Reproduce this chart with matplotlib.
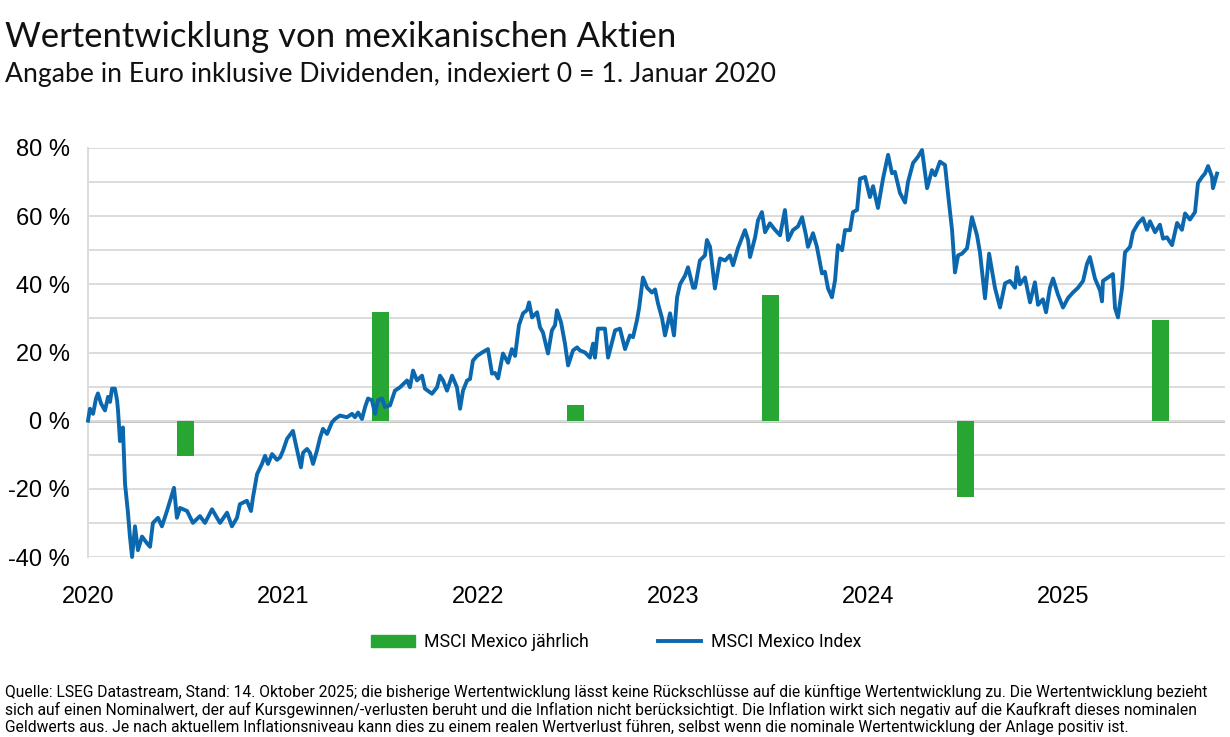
import matplotlib
matplotlib.use('Agg')
import matplotlib.pyplot as plt
from matplotlib.patches import Patch
from matplotlib.lines import Line2D

# years since 1 Jan 2020 / performance in %
index_t = [0.000, 0.010, 0.026, 0.041, 0.051, 0.067, 0.087, 0.103, 0.113, 0.123,
           0.138, 0.149, 0.154, 0.164, 0.179, 0.190, 0.205, 0.215, 0.226, 0.241,
           0.256, 0.277, 0.303, 0.318, 0.333, 0.359, 0.379, 0.405, 0.421, 0.441,
           0.456, 0.472, 0.508, 0.538, 0.574, 0.600, 0.636, 0.677, 0.713, 0.738,
           0.764, 0.779, 0.815, 0.836, 0.846, 0.867, 0.892, 0.908, 0.923, 0.944,
           0.969, 0.985, 1.000, 1.021, 1.051, 1.062, 1.077, 1.092, 1.103, 1.123,
           1.138, 1.154, 1.174, 1.190, 1.205, 1.226, 1.251, 1.267, 1.292, 1.328,
           1.354, 1.369, 1.385, 1.405, 1.421, 1.436, 1.456, 1.472, 1.487, 1.508,
           1.523, 1.549, 1.574, 1.600, 1.636, 1.651, 1.667, 1.687, 1.713, 1.728,
           1.764, 1.790, 1.805, 1.821, 1.841, 1.867, 1.892, 1.908, 1.923, 1.944,
           1.959, 1.974, 1.995, 2.021, 2.051, 2.072, 2.087, 2.103, 2.128, 2.154,
           2.174, 2.190, 2.210, 2.231, 2.251, 2.262, 2.277, 2.303, 2.318, 2.333,
           2.359, 2.379, 2.395, 2.405, 2.426, 2.446, 2.462, 2.487, 2.508, 2.523,
           2.549, 2.574, 2.590, 2.600, 2.615, 2.651, 2.667, 2.687, 2.703, 2.728,
           2.754, 2.779, 2.795, 2.815, 2.826, 2.846, 2.867, 2.892, 2.908, 2.923,
           2.944, 2.959, 2.985, 3.005, 3.021, 3.036, 3.062, 3.077, 3.103, 3.113,
           3.138, 3.164, 3.174, 3.190, 3.215, 3.241, 3.267, 3.292, 3.308, 3.333,
           3.369, 3.385, 3.395, 3.421, 3.436, 3.456, 3.472, 3.497, 3.523, 3.549,
           3.574, 3.590, 3.615, 3.641, 3.662, 3.682, 3.692, 3.718, 3.738, 3.764,
           3.779, 3.795, 3.815, 3.831, 3.846, 3.867, 3.882, 3.908, 3.923, 3.944,
           3.959, 3.985, 4.010, 4.026, 4.051, 4.077, 4.103, 4.123, 4.138, 4.164,
           4.190, 4.205, 4.231, 4.256, 4.277, 4.303, 4.328, 4.344, 4.369, 4.395,
           4.410, 4.431, 4.446, 4.462, 4.482, 4.508, 4.533, 4.559, 4.574, 4.600,
           4.621, 4.651, 4.677, 4.703, 4.728, 4.754, 4.764, 4.779, 4.805, 4.831,
           4.856, 4.872, 4.897, 4.913, 4.933, 4.949, 4.974, 5.000, 5.026, 5.051,
           5.077, 5.103, 5.123, 5.138, 5.164, 5.190, 5.200, 5.205, 5.231, 5.256,
           5.267, 5.282, 5.303, 5.318, 5.344, 5.359, 5.385, 5.410, 5.431, 5.446,
           5.472, 5.497, 5.513, 5.533, 5.559, 5.585, 5.610, 5.626, 5.651, 5.677,
           5.692, 5.713, 5.728, 5.744, 5.764, 5.769, 5.790]
index_val = [0, 3.5, 2, 6.5, 8, 5, 3, 7, 5.5, 9.4,
             9.4, 6, 3, -6, -2, -18.6, -27, -34, -40, -31,
             -38, -34, -36, -37, -30, -28.5, -31, -26.5, -23.5, -19.7,
             -28.5, -25.6, -26.5, -30, -28, -30, -26, -30, -27, -31,
             -28.5, -24.5, -23.5, -26.5, -22.5, -15.7, -12.7, -10.3, -12.7, -9.8,
             -11.5, -10.8, -8.8, -5.3, -3, -6, -9.8, -13.7, -9.4, -8.3,
             -9.4, -12.7, -8.8, -5, -2.4, -3.9, -0.5, 0.5, 1.5, 1,
             2, 1, 2.4, 0.5, 4, 6.5, 6, 2, 6, 6.5,
             4, 4.5, 8.8, 9.8, 11.8, 9.8, 14.7, 11.8, 13.2, 9.4,
             7.9, 9.8, 13.2, 11.8, 8.8, 13.2, 9.8, 3.5, 8.8, 11.8,
             12.2, 17.6, 19, 20, 21, 13.8, 14, 12.4, 19.7, 17,
             21, 19, 28, 31.5, 32.4, 34.7, 30.3, 31.8, 27.4, 25.9,
             19.7, 26.5, 28, 32.4, 28.8, 22.6, 16.2, 20.6, 21.5, 20.6,
             20, 18.5, 22.6, 18.5, 27, 27, 18.5, 23, 26.5, 27,
             21, 25, 24.5, 29.4, 33, 42, 39, 37.6, 38.5, 34.4,
             30, 25, 31.5, 25, 36.2, 40, 42.6, 45, 39, 39,
             47, 48.5, 53, 51, 38.8, 47.6, 47, 48.5, 45.6, 50.6,
             55.9, 53, 48, 53.8, 58.8, 61.2, 55.3, 57.9, 56, 54.4,
             61.8, 53, 55.9, 57, 59.7, 54.4, 51, 55, 51, 43.2,
             43.7, 38.8, 36.2, 41.2, 51.5, 50, 55.9, 55.9, 61.2, 61.8,
             71, 71.5, 65.6, 68.8, 62.4, 71, 78, 72.6, 73, 66.8,
             64, 70, 75.6, 77.4, 79.4, 68.2, 73.5, 72, 76, 75,
             66.8, 55.9, 43.5, 48.5, 49, 50.6, 59.7, 54.4, 49.4, 35.9,
             49, 39, 33.2, 40.3, 41, 39, 45, 40, 42, 34.7,
             40.6, 34, 35.6, 31.8, 39, 41.7, 37, 33.2, 36, 37.6,
             39, 41, 46, 48, 41.7, 38.2, 35, 41, 42, 43,
             33, 30.3, 39, 49.4, 51, 55.3, 57.9, 59.4, 56, 58.5,
             55.3, 57.5, 53.4, 53.8, 51.5, 58, 56, 60.8, 59, 61.2,
             69.7, 71.5, 72.5, 74.7, 71.5, 68.2, 72.5]

bar_years = [2020, 2021, 2022, 2023, 2024, 2025]
bar_val = [-10.3, 32, 4.7, 36.8, -22.4, 29.4]

year_labels = ['2020', '2021', '2022', '2023', '2024', '2025']

blue = '#0b68ae'
green = '#28a634'

plt.rcParams['font.family'] = ['Liberation Sans', 'DejaVu Sans']

fig = plt.figure(figsize=(12.3, 7.37), dpi=100)
ax = fig.add_axes([88 / 1230, 1 - 557 / 737, (1225 - 88) / 1230, (557 - 148) / 737])

bar_pos = [y - 2020 + 0.5 for y in bar_years]
ax.bar(bar_pos, bar_val, width=0.092, color=green, zorder=2)
ax.plot(index_t, index_val, color=blue, lw=2.8, zorder=3, clip_on=False,
        solid_joinstyle='round')

ax.set_xlim(0, (1225 - 88) / 195)
ax.set_ylim(-40, 80)
ax.set_yticks(range(-40, 81, 20))
ax.set_yticklabels([f'{v} %' for v in range(-40, 81, 20)], fontsize=17)
ax.set_yticks(range(-40, 81, 10), minor=True)
ax.set_xticks(range(6))
ax.set_xticklabels(year_labels, fontsize=17)
ax.tick_params(axis='both', length=0, which='both')
ax.tick_params(axis='y', pad=13)
ax.tick_params(axis='x', pad=21)
ax.grid(axis='y', which='both', color='#dcdcdc', lw=1.4, zorder=0)
ax.axhline(0, color='#bdbdbd', lw=2, zorder=1)
for s in ['top', 'right', 'bottom']:
    ax.spines[s].set_visible(False)
ax.spines['left'].set_color('#dcdcdc')
ax.spines['left'].set_linewidth(1.4)

renderer = fig.canvas.get_renderer()


def fit(txt, width_px):
    w = txt.get_window_extent(renderer=renderer).width
    txt.set_fontsize(txt.get_fontsize() * width_px / w)
    return txt.get_fontsize()


title = fig.text(5 / 1230, 1 - 47 / 737, 'Wertentwicklung von mexikanischen Aktien',
                 fontsize=25, family=['Lato', 'DejaVu Sans'], va='baseline', color='#111111')
fit(title, 671)
sub = fig.text(5 / 1230, 1 - 82 / 737, 'Angabe in Euro inklusive Dividenden, indexiert 0 = 1. Januar 2020',
               fontsize=18, family=['Lato', 'DejaVu Sans'], va='baseline', color='#111111')
fit(sub, 770)

handles = [Patch(color=green), Line2D([], [], color=blue, lw=2.8)]
fig.legend(handles, ['MSCI Mexico jährlich', 'MSCI Mexico Index'], loc='center',
           bbox_to_anchor=(0.501, 1 - 642 / 737), ncol=2, frameon=False,
           handlelength=2.45, handleheight=0.65, columnspacing=3.9, handletextpad=0.55,
           prop={'family': ['Roboto', 'DejaVu Sans'], 'size': 12.7})

notes = [
    'Quelle: LSEG Datastream, Stand: 14. Oktober 2025; die bisherige Wertentwicklung lässt keine Rückschlüsse auf die künftige Wertentwicklung zu. Die Wertentwicklung bezieht',
    'sich auf einen Nominalwert, der auf Kursgewinnen/-verlusten beruht und die Inflation nicht berücksichtigt. Die Inflation wirkt sich negativ auf die Kaufkraft dieses nominalen',
    'Geldwerts aus. Je nach aktuellem Inflationsniveau kann dies zu einem realen Wertverlust führen, selbst wenn die nominale Wertentwicklung der Anlage positiv ist.',
]
note_txt = [fig.text(5 / 1230, 1 - (697 + 17.5 * i) / 737, line, fontsize=10.5,
                     family=['Roboto', 'DejaVu Sans'], va='baseline')
            for i, line in enumerate(notes)]
size = fit(note_txt[0], 1203)
for t in note_txt[1:]:
    t.set_fontsize(size)

fig.savefig('out.png', dpi=100)
